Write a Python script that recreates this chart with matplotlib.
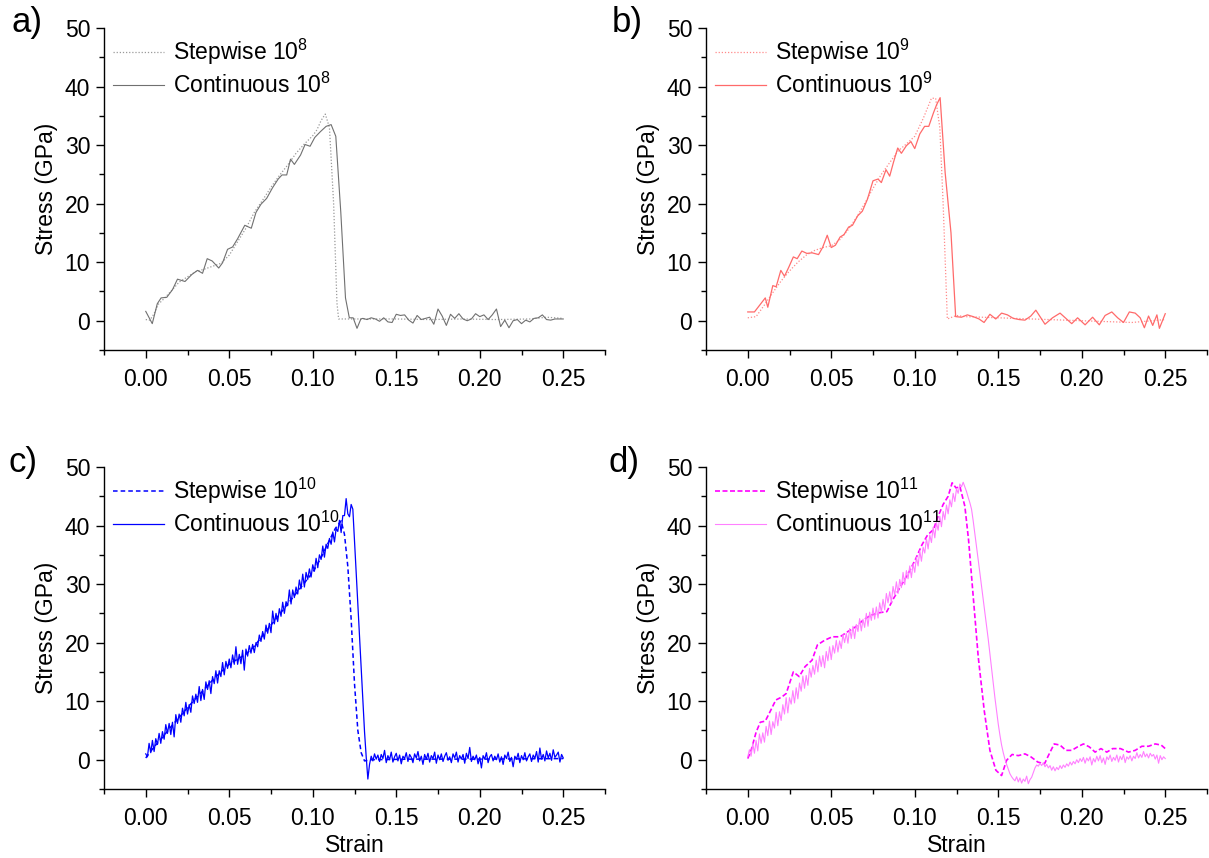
import numpy as np
import matplotlib.pyplot as plt
from matplotlib.ticker import MultipleLocator

plt.rcParams['font.family'] = ['Liberation Sans', 'DejaVu Sans']
plt.rcParams['mathtext.fontset'] = 'custom'
plt.rcParams['mathtext.rm'] = 'Liberation Sans'
plt.rcParams['mathtext.default'] = 'regular'

# ---- panel a (10^8) ----
strain_a_cont = [0, 0.0039, 0.0069, 0.0092, 0.0126, 0.016, 0.019, 0.0235, 0.0276, 0.031,
                 0.034, 0.0368, 0.0398, 0.0437, 0.046, 0.049, 0.052, 0.055, 0.0593, 0.0632,
                 0.066, 0.069, 0.0724, 0.0759, 0.0793, 0.0816, 0.0844, 0.0867, 0.089, 0.0927,
                 0.0954, 0.0984, 0.1012, 0.1046, 0.108, 0.111, 0.1138, 0.1168, 0.1196, 0.1219,
                 0.1242, 0.1265, 0.1288, 0.1300, 0.1325, 0.1350, 0.1375, 0.1400, 0.1425, 0.1450,
                 0.1475, 0.1500, 0.1525, 0.1550, 0.1575, 0.1600, 0.1625, 0.1650, 0.1675, 0.1700,
                 0.1725, 0.1750, 0.1775, 0.1800, 0.1825, 0.1850, 0.1875, 0.1900, 0.1925, 0.1950,
                 0.1975, 0.2000, 0.2025, 0.2050, 0.2075, 0.2100, 0.2125, 0.2150, 0.2175, 0.2200,
                 0.2225, 0.2250, 0.2275, 0.2300, 0.2325, 0.2350, 0.2375, 0.2400, 0.2425, 0.2450,
                 0.2475, 0.2500]
stress_a_cont = [1.6, -0.5, 2.9, 3.9, 4.0, 5.3, 7.1, 6.7, 7.9, 8.6,
                 8.1, 10.6, 10.2, 9.0, 9.9, 12.2, 12.6, 14.0, 16.3, 15.8,
                 18.5, 19.9, 20.9, 22.7, 24.2, 24.9, 24.9, 27.6, 26.7, 28.3,
                 30.1, 29.8, 31.3, 32.3, 33.2, 33.5, 31.5, 18.5, 3.9, 0.5,
                 0.5, -1.3, 0.3, 0.4, 0.2, 0.5, 0.3, -0.1, 0.5, -0.2,
                 -0.3, 1.1, 0.9, 1.0, 0.1, -0.4, 0.9, 0.2, 0.4, 0.6,
                 -0.6, 2.0, 0.8, -0.8, 1.1, 0.4, 1.2, 0.3, 0.0, 0.3,
                 1.2, 0.7, 1.0, 0.2, 1.0, 2.0, -1.0, 0.1, -1.2, 0.0,
                 0.2, -0.5, 0.1, -0.2, 0.4, 0.5, 1.0, 0.2, 0.1, 0.3,
                 0.3, 0.3]
strain_a_step = [0, 0.0025, 0.005, 0.0075, 0.01, 0.015, 0.02, 0.025, 0.03, 0.035,
                 0.04, 0.045, 0.05, 0.055, 0.06, 0.065, 0.07, 0.075, 0.08, 0.085,
                 0.09, 0.095, 0.10, 0.1025, 0.105, 0.1075, 0.11, 0.1125, 0.1145, 0.1155,
                 0.13, 0.15, 0.17, 0.19, 0.21, 0.23, 0.24, 0.25]
stress_a_step = [0.2, 0.1, 1.2, 2.8, 3.5, 5.0, 6.6, 7.5, 8.4, 8.8,
                 9.3, 9.8, 11.2, 13.5, 15.8, 18.5, 20.6, 22.8, 24.8, 26.6,
                 28.6, 30.2, 31.6, 32.6, 34.2, 35.3, 33.0, 20.0, 3.0, 0.3,
                 0.3, 0.3, 0.2, 0.3, 0.2, 0.3, 0.6, 0.4]

# ---- panel b (10^9) ----
strain_b_cont = [0, 0.004, 0.0105, 0.012, 0.015, 0.017, 0.0198, 0.022, 0.0245, 0.0273,
                 0.0296, 0.0324, 0.0354, 0.0385, 0.0424, 0.0448, 0.0476, 0.050, 0.0525, 0.0553,
                 0.0576, 0.0604, 0.0627, 0.0658, 0.0686, 0.0716, 0.075, 0.078, 0.080, 0.0828,
                 0.085, 0.0872, 0.0898, 0.092, 0.095, 0.0977, 0.100, 0.103, 0.1059, 0.1084,
                 0.1112, 0.1131, 0.1152, 0.1182, 0.1217, 0.1245, 0.128, 0.1315, 0.135, 0.1385,
                 0.1415, 0.145, 0.1485, 0.152, 0.1555, 0.159, 0.1625, 0.166, 0.1695, 0.1725,
                 0.178, 0.1825, 0.187, 0.194, 0.1975, 0.202, 0.2065, 0.2105, 0.214, 0.218,
                 0.2215, 0.225, 0.2285, 0.232, 0.235, 0.2375, 0.24, 0.2425, 0.245, 0.2465,
                 0.25]
stress_b_cont = [1.5, 1.5, 3.9, 2.3, 6.0, 5.8, 8.6, 7.6, 9.1, 10.9,
                 10.6, 11.9, 11.5, 11.6, 11.3, 12.5, 14.6, 12.5, 12.9, 14.3,
                 14.7, 16.0, 16.3, 17.9, 18.7, 20.7, 23.9, 24.2, 23.6, 25.8,
                 24.7, 27.0, 29.5, 28.6, 29.9, 30.6, 29.4, 31.9, 33.2, 33.2,
                 35.5, 36.9, 38.1, 25.3, 15.0, 0.7, 0.6, 1.0, 0.7, 0.3,
                 -0.3, 1.1, 0.3, 1.3, 1.0, 0.4, 0.2, 0.1, 0.8, 1.8,
                 -0.6, 0.5, 1.3, -0.5, 0.5, -0.7, 0.6, -0.7, 0.9, 1.5,
                 0.5, -0.3, 1.5, 1.3, 0.5, -1.2, 0.8, -0.8, 1.0, -1.3,
                 1.2]
strain_b_step = [0, 0.005, 0.01, 0.015, 0.02, 0.025, 0.03, 0.035, 0.04, 0.045,
                 0.05, 0.055, 0.06, 0.065, 0.07, 0.075, 0.08, 0.085, 0.09, 0.095,
                 0.10, 0.105, 0.11, 0.1125, 0.115, 0.117, 0.1195, 0.125, 0.13, 0.15,
                 0.17, 0.20, 0.23, 0.25]
stress_b_step = [0.5, 0.7, 2.7, 4.8, 6.8, 8.5, 10.0, 11.2, 12.0, 12.5,
                 12.8, 13.8, 15.5, 17.6, 20.0, 22.6, 25.0, 27.0, 29.0, 30.2,
                 31.5, 34.5, 38.0, 38.0, 33.0, 20.0, 0.3, 0.9, 0.7, 0.5,
                 0.3, 0.0, -0.3, 0.2]

# ---- panel c (10^10), continuous sampled every 0.001 strain ----
strain_c_cont = np.linspace(0, 0.25, 251)
stress_c_cont = [1.0, 0.5, 2.8, 1.2, 3.3, 1.4, 3.6, 2.6, 4.5, 2.8,
                 4.8, 3.5, 6.0, 4.5, 6.2, 4.3, 6.4, 3.9, 7.7, 6.2,
                 7.8, 6.4, 8.8, 7.5, 9.8, 7.8, 9.4, 8.1, 10.9, 9.6,
                 11.2, 9.8, 12.5, 10.1, 12.0, 10.3, 13.3, 12.0, 13.5, 11.3,
                 14.2, 13.0, 15.2, 13.1, 15.2, 14.2, 16.6, 14.5, 16.8, 15.6,
                 17.2, 15.7, 17.9, 16.3, 19.3, 16.3, 18.0, 16.4, 18.7, 15.3,
                 18.9, 17.7, 19.5, 18.2, 19.7, 18.3, 20.0, 19.3, 21.3, 20.2,
                 21.9, 20.6, 23.0, 21.6, 23.3, 21.7, 25.4, 23.2, 25.0, 23.6,
                 25.8, 24.5, 26.9, 25.0, 27.0, 26.3, 29.0, 26.6, 29.0, 27.7,
                 29.5, 28.3, 30.7, 29.2, 31.7, 29.5, 32.0, 30.8, 32.6, 31.2,
                 33.3, 32.2, 34.4, 32.8, 35.0, 34.2, 36.5, 34.6, 36.8, 36.1,
                 37.8, 36.8, 38.9, 37.2, 39.5, 39.0, 40.9, 38.8, 41.7, 41.7,
                 44.6, 42.0, 41.5, 43.6, 42.8, 37.5, 32.0, 26.5, 21.0, 15.5,
                 10.0, 4.8, 0.5, -3.3, -0.8, 0.6, -0.2, 1.0, 0.1, 0.8,
                 -0.3, 0.9, 0.2, 1.6, -0.5, 0.7, 0.0, 1.3, -0.4, 0.5,
                 1.1, -0.2, 0.8, -0.7, 0.6, 0.2, 1.2, -0.3, 0.9, 0.4,
                 -0.5, 1.0, 0.3, 1.4, -0.2, 0.6, -0.8, 0.9, 0.1, 1.1,
                 -0.4, 0.7, 0.2, 1.3, -0.6, 0.8, 0.0, 1.0, -0.3, 0.6,
                 1.2, -0.1, 0.5, -0.5, 1.0, 0.3, 1.3, -0.4, 0.7, 0.1,
                 0.9, -0.6, 1.1, 0.2, 2.1, -0.3, 0.6, 0.0, 0.8, -0.7,
                 0.4, -1.4, 0.7, 0.1, 1.2, -0.5, 0.5, 0.9, -0.2, 0.6,
                 0.0, 1.0, -0.4, 0.5, -0.8, 0.8, 0.2, 1.3, -0.3, 0.4,
                 -1.2, 0.6, 0.1, 1.1, -0.5, 0.7, 0.0, 1.2, -0.2, 0.5,
                 1.0, -0.3, 0.8, 0.2, 1.4, -0.4, 2.0, 0.1, 0.9, -0.2,
                 1.5, 0.3, 1.1, -0.1, 1.7, 0.4, 0.8, 1.3, -0.4, 0.9,
                 0.3]
strain_c_step = [0, 0.005, 0.01, 0.015, 0.02, 0.025, 0.03, 0.035, 0.04, 0.045,
                 0.05, 0.055, 0.06, 0.065, 0.07, 0.075, 0.08, 0.085, 0.09, 0.095,
                 0.10, 0.105, 0.11, 0.1135, 0.117, 0.119, 0.121, 0.123, 0.125, 0.127,
                 0.129, 0.131, 0.135, 0.16, 0.20, 0.25]
stress_c_step = [0.3, 2.2, 3.8, 5.6, 7.2, 8.9, 10.5, 12.0, 13.6, 15.0,
                 16.3, 17.2, 18.0, 19.4, 21.2, 23.0, 24.8, 26.6, 28.4, 30.2,
                 32.0, 34.5, 37.5, 39.5, 40.8, 38.5, 33.0, 24.0, 13.0, 5.0,
                 1.2, -0.2, 0.0, 0.1, 0.1, 0.2]

# ---- panel d (10^11), continuous sampled every 0.001 strain ----
strain_d_cont = np.linspace(0, 0.25, 251)
stress_d_cont = [0.5, 1.7, 0.6, 2.8, 1.1, 3.3, 1.5, 4.4, 2.8, 4.6,
                 3.0, 5.7, 4.1, 6.6, 4.3, 6.5, 5.4, 8.1, 5.8, 8.2,
                 6.7, 9.4, 7.8, 10.6, 8.0, 10.6, 9.5, 11.8, 9.7, 12.3,
                 10.4, 13.1, 11.7, 14.3, 12.2, 14.4, 12.7, 15.6, 14.1, 16.1,
                 14.6, 17.0, 15.0, 17.7, 15.9, 17.8, 15.7, 18.5, 16.9, 19.3,
                 17.1, 19.5, 18.2, 20.4, 18.4, 20.3, 19.0, 21.4, 20.0, 21.6,
                 19.9, 22.4, 20.7, 22.8, 20.7, 23.1, 21.9, 24.1, 22.0, 24.0,
                 22.6, 25.0, 22.8, 25.2, 23.8, 25.9, 24.0, 26.1, 24.2, 26.8,
                 25.2, 27.4, 25.6, 28.4, 26.8, 28.7, 26.9, 29.6, 28.1, 30.4,
                 28.4, 30.8, 29.4, 32.0, 29.9, 32.3, 30.9, 33.1, 31.1, 33.5,
                 32.0, 34.6, 33.1, 35.7, 33.9, 36.3, 35.3, 37.8, 36.0, 38.4,
                 37.1, 39.7, 37.9, 40.5, 39.2, 41.6, 39.8, 42.4, 41.0, 43.5,
                 42.0, 44.4, 43.2, 45.5, 44.1, 46.3, 45.5, 47.1, 46.6, 47.4,
                 46.6, 45.8, 44.8, 43.9, 42.8, 40.8, 38.6, 36.4, 34.2, 31.9,
                 29.6, 27.4, 25.1, 22.9, 20.6, 18.1, 15.6, 13.1, 10.6, 8.3,
                 6.1, 4.2, 2.5, 1.2, 0.1, -0.8, -1.6, -2.4, -2.9, -3.3,
                 -3.6, -2.9, -3.8, -3.1, -4.0, -3.3, -3.7, -2.8, -4.1, -3.4,
                 -3.0, -2.2, -1.4, -0.9, -1.1, -0.6, -1.0, -0.5, -1.2, -0.8,
                 -1.4, -1.0, -1.8, -1.2, -1.9, -1.3, -1.7, -1.0, -1.5, -0.9,
                 -1.3, -0.7, -1.1, -0.4, -0.9, -0.3, -0.7, 0.0, -0.5, 0.2,
                 -0.3, 0.4, -0.6, 0.3, -0.2, 0.5, -0.9, 0.2, -0.4, 0.6,
                 -0.2, 0.7, -0.5, 0.3, -0.8, 0.5, 0.0, 0.8, -0.3, 0.4,
                 -0.1, 0.8, -0.4, 0.6, 0.0, 0.9, -0.5, 0.5, 0.1, 0.7,
                 -0.2, 0.6, 0.2, 1.2, 0.3, 0.9, 0.4, 1.4, 0.5, 1.0,
                 0.3, 1.1, 0.6, 0.9, 0.1, 0.8, -0.6, 0.7, 0.0, 0.5,
                 0.2]
strain_d_step = [0, 0.002, 0.005, 0.0075, 0.0105, 0.013, 0.0168, 0.0203, 0.023, 0.0273,
                 0.0308, 0.0343, 0.0385, 0.0417, 0.046, 0.0506, 0.0553, 0.06, 0.0646, 0.0693,
                 0.0739, 0.0786, 0.0833, 0.0868, 0.0903, 0.0938, 0.0972, 0.1007, 0.1043, 0.1077,
                 0.1112, 0.114, 0.117, 0.120, 0.1224, 0.1248, 0.127, 0.130, 0.1322, 0.135,
                 0.138, 0.1416, 0.145, 0.1486, 0.152, 0.155, 0.1583, 0.162, 0.166, 0.1695,
                 0.1737, 0.1777, 0.180, 0.1835, 0.187, 0.1905, 0.194, 0.1975, 0.201, 0.2045,
                 0.208, 0.2115, 0.215, 0.2185, 0.2232, 0.228, 0.232, 0.236, 0.240, 0.244,
                 0.2476, 0.25]
stress_d_step = [0.2, 1.6, 4.7, 6.4, 6.6, 8.0, 10.2, 10.7, 11.3, 15.0,
                 14.2, 15.9, 17.0, 19.6, 20.4, 21.0, 21.0, 21.9, 22.7, 23.9,
                 24.7, 25.1, 25.3, 27.3, 29.0, 30.7, 32.4, 34.4, 36.7, 38.4,
                 39.3, 41.6, 43.6, 45.0, 47.3, 46.4, 46.7, 43.3, 37.6, 27.9,
                 17.6, 8.4, 1.6, -1.8, -2.7, -0.1, 0.9, 0.7, 1.0, 0.5,
                 -0.4, -0.7, 0.7, 2.7, 2.5, 1.6, 1.6, 2.2, 2.7, 2.2,
                 1.3, 1.9, 1.3, 1.9, 1.9, 1.3, 1.6, 2.3, 2.3, 2.7,
                 2.5, 1.9]

W, H = 1209, 858
fig = plt.figure(figsize=(W / 100, H / 100), dpi=100)


def make_ax(x0, y_top):
    # pixel box -> figure fraction
    ax = fig.add_axes([x0 / W, (H - y_top - 322) / H, 501 / W, 322 / H])
    ax.set_xlim(-0.025, 0.275)
    ax.set_ylim(-5, 50)
    for s in ['top', 'right']:
        ax.spines[s].set_visible(False)
    for s in ['left', 'bottom']:
        ax.spines[s].set_linewidth(1.0)
    ax.xaxis.set_minor_locator(MultipleLocator(0.025))
    ax.yaxis.set_minor_locator(MultipleLocator(5))
    ax.set_xticks([0, 0.05, 0.10, 0.15, 0.20, 0.25])
    ax.set_xticklabels(['0.00', '0.05', '0.10', '0.15', '0.20', '0.25'])
    ax.set_yticks([0, 10, 20, 30, 40, 50])
    ax.tick_params(which='major', direction='out', length=6, width=1.0, labelsize=16.5, pad=4)
    ax.tick_params(axis='x', which='major', pad=7)
    ax.tick_params(which='minor', direction='out', length=3.5, width=1.0)
    ax.set_ylabel('Stress (GPa)', fontsize=16.5, labelpad=5)
    return ax


ax_a = make_ax(104, 28)
ax_b = make_ax(706, 28)
ax_c = make_ax(104, 467)
ax_d = make_ax(706, 467)

ax_a.plot(strain_a_step, stress_a_step, color='#9a9a9a', lw=0.9, ls=(0, (1, 1.5)), label='Stepwise 10$^{8}$')
ax_a.plot(strain_a_cont, stress_a_cont, color='#707070', lw=0.8, label='Continuous 10$^{8}$')

ax_b.plot(strain_b_step, stress_b_step, color='#ff8a8a', lw=0.9, ls=(0, (1, 1.5)), label='Stepwise 10$^{9}$')
ax_b.plot(strain_b_cont, stress_b_cont, color='#ff6a6a', lw=0.9, label='Continuous 10$^{9}$')

ax_c.plot(strain_c_step, stress_c_step, color='#0000ff', lw=1.1, ls=(0, (3, 2)), label='Stepwise 10$^{10}$')
ax_c.plot(strain_c_cont, stress_c_cont, color='#0000ff', lw=0.9, label='Continuous 10$^{10}$')

ax_d.plot(strain_d_step, stress_d_step, color='#ff00ff', lw=1.2, ls=(0, (3, 1.5)), label='Stepwise 10$^{11}$')
ax_d.plot(strain_d_cont, stress_d_cont, color='#ff80ff', lw=0.8, label='Continuous 10$^{11}$')

for ax in (ax_a, ax_b, ax_c, ax_d):
    ax.legend(loc='upper left', bbox_to_anchor=(0, 1), frameon=False, fontsize=16.5,
              handlelength=2.2, handletextpad=0.4, labelspacing=0.25, borderaxespad=0.0)

for ax in (ax_c, ax_d):
    ax.set_xlabel('Strain', fontsize=16.5, labelpad=3)

for lab, px, py in [('a)', 11, 6), ('b)', 612, 6), ('c)', 9, 446), ('d)', 609, 446)]:
    fig.text(px / W, 1 - py / H, lab, fontsize=25, va='top', ha='left')

fig.savefig('out.png', dpi=100)
